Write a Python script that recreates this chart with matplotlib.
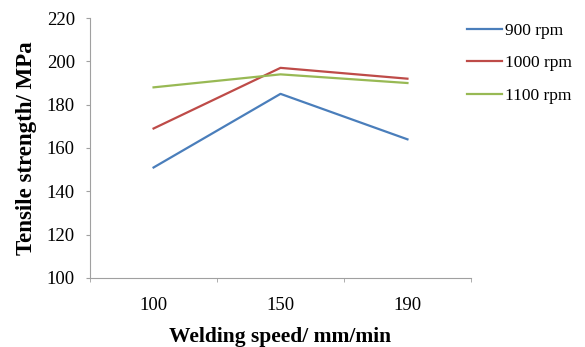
import numpy as np
import matplotlib.pyplot as plt

plt.rcParams['font.family'] = ['Liberation Serif', 'DejaVu Serif']

speeds = ['100', '150', '190']
rpm_900 = [151, 185, 164]
rpm_1000 = [169, 197, 192]
rpm_1100 = [188, 194, 190]

series = [
    ('900 rpm', rpm_900, '#4a7ebb'),
    ('1000 rpm', rpm_1000, '#be4b48'),
    ('1100 rpm', rpm_1100, '#98b954'),
]

fig = plt.figure(figsize=(5.85, 3.47), dpi=100)
ax = fig.add_axes([0.154, 0.199, 0.651, 0.749])

x = np.arange(len(speeds))
for label, vals, color in series:
    ax.plot(x, vals, color=color, lw=1.6, label=label)

ax.set_xlim(-0.5, len(speeds) - 0.5)
ax.set_ylim(100, 220)
ax.set_yticks(range(100, 221, 20))
ax.set_xticks(x)
ax.set_xticklabels(speeds)
ax.set_xticks(np.arange(-0.5, len(speeds)), minor=True)
ax.tick_params(axis='x', which='major', length=0, pad=14, labelsize=13.5)
ax.tick_params(axis='x', which='minor', length=3, color='#a0a0a0', direction='out')
ax.tick_params(axis='y', length=3, color='#a0a0a0', labelsize=13.5, pad=8)

for side in ['top', 'right']:
    ax.spines[side].set_visible(False)
for side in ['left', 'bottom']:
    ax.spines[side].set_color('#a0a0a0')

ax.set_xlabel('Welding speed/ mm/min', fontsize=15.5, fontweight='bold', labelpad=9)
ax.set_ylabel('Tensile strength/ MPa', fontsize=16.5, fontweight='bold', labelpad=7)

fig.legend(loc='upper left', bbox_to_anchor=(0.772, 0.98), frameon=False,
           fontsize=12.5, handlelength=2.0, handletextpad=0.2, labelspacing=0.95)

fig.savefig('out.png', dpi=100)
